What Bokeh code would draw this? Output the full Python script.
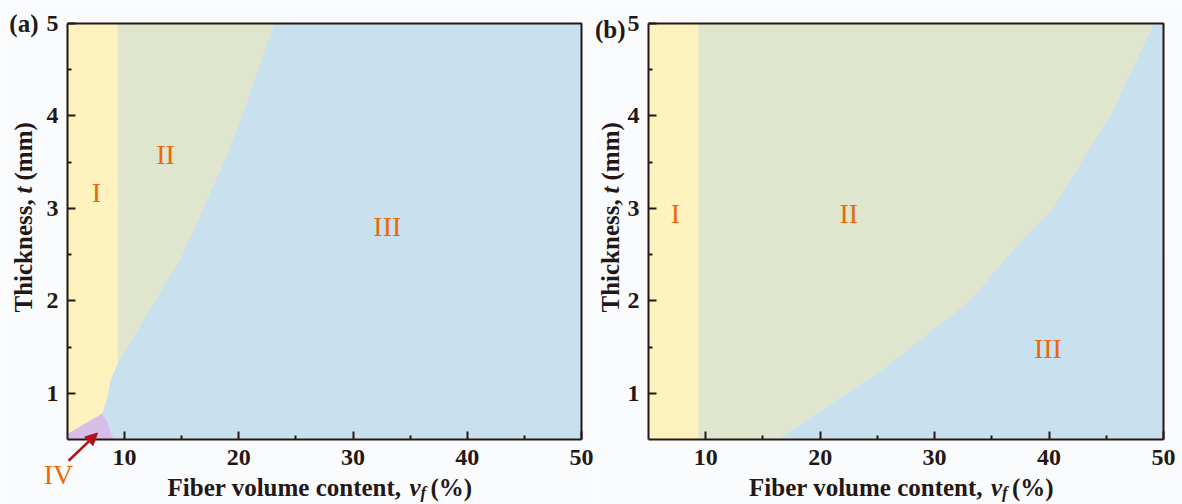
from bokeh.plotting import figure
from bokeh.models import Range1d, FixedTicker, Label, Arrow, NormalHead, LinearAxis
from bokeh.layouts import row
from bokeh.embed import file_html
from bokeh.resources import INLINE
import math

# ---------------- data ----------------
vf_min, vf_max = 5, 50
t_min, t_max = 0.5, 5
x_major = [10, 20, 30, 40, 50]
x_minor = [15, 25, 35, 45]
y_major = [1, 2, 3, 4, 5]
y_minor = [1.5, 2.5, 3.5, 4.5]

# panel (a)
a_I_edge = 9.4
a_II_III_vf = [9.4, 14.9, 16.9, 19.0, 20.75, 23.1]
a_II_III_t = [1.32, 2.46, 3.0, 3.59, 4.16, 5.0]
a_I_III_vf = [9.4, 8.77, 8.5, 8.06]
a_I_III_t = [1.32, 1.14, 0.95, 0.78]
a_IV_vf = [5, 5, 8.06, 8.5, 9.03]
a_IV_t = [0.5, 0.56, 0.78, 0.68, 0.5]
a_label_text = ["I", "II", "III"]
a_label_vf = [7.54, 13.58, 33.0]
a_label_t = [3.17, 3.58, 2.80]
a_IV_label = ("IV", 4.21, 0.12)
a_arrow_vf = [5.09, 7.63]
a_arrow_t = [0.27, 0.57]

# panel (b)
b_I_edge = 9.37
b_II_III_vf = [16.3, 25.3, 33.1, 36.8, 40.4, 45.6, 49.1, 49.5]
b_II_III_t = [0.5, 1.24, 2.0, 2.54, 3.01, 4.06, 4.98, 5.0]
b_label_text = ["I", "II", "III"]
b_label_vf = [7.36, 22.5, 39.9]
b_label_t = [2.94, 2.94, 1.48]

# ---------------- style ----------------
C_I = "#FEF2BF"
C_II = "#E0E6CE"
C_III = "#C9E0EF"
C_IV = "#D9BDE9"
C_TXT = "#E8690C"
C_INK = "#231815"
C_BG = "#FAFBFD"
C_ARROW = "#B0121B"
SERIF = "Liberation Serif"
H = 504
PAD_TOP, PAD_BOTTOM = 23, 65


def lab(p, **kw):
    p.add_layout(Label(**kw))


def make_panel(width, pad_left, pad_right):
    # the plotting frame fills the whole canvas; the data box sits inside it
    sx = (width - pad_left - pad_right) / (vf_max - vf_min)
    sy = (H - PAD_TOP - PAD_BOTTOM) / (t_max - t_min)
    xr = Range1d(vf_min - pad_left / sx, vf_max + pad_right / sx)
    yr = Range1d(t_min - PAD_BOTTOM / sy, t_max + PAD_TOP / sy)
    p = figure(width=width, height=H, x_range=xr, y_range=yr,
               output_backend="svg", toolbar_location=None,
               x_axis_location=None, y_axis_location=None,
               min_border=0)
    p.border_fill_color = C_BG
    p.background_fill_color = C_BG
    p.outline_line_color = None
    p.grid.visible = False

    # region III fills the data box
    p.patch([vf_min, vf_max, vf_max, vf_min], [t_min, t_min, t_max, t_max],
            fill_color=C_III, line_color=None)

    xa = LinearAxis(fixed_location=t_min, bounds=(vf_min, vf_max),
                    ticker=FixedTicker(ticks=x_major, minor_ticks=x_minor))
    ya = LinearAxis(fixed_location=vf_min, bounds=(t_min, t_max),
                    ticker=FixedTicker(ticks=y_major, minor_ticks=y_minor))
    for ax in (xa, ya):
        ax.axis_line_color = C_INK
        ax.axis_line_width = 2
        ax.major_tick_line_color = C_INK
        ax.major_tick_line_width = 2
        ax.minor_tick_line_color = C_INK
        ax.minor_tick_line_width = 2
        ax.major_tick_in = 8
        ax.major_tick_out = 0
        ax.minor_tick_in = 4
        ax.minor_tick_out = 0
        ax.major_label_text_font = SERIF
        ax.major_label_text_font_style = "bold"
        ax.major_label_text_font_size = "24px"
        ax.major_label_text_color = C_INK
    xa.major_label_standoff = 10
    ya.major_label_standoff = 9
    p.add_layout(xa, "below")
    p.add_layout(ya, "left")
    return p


def decorate(p, tag, tag_dx, tag_dy, ylab_dx):
    # top and right edges of the data box
    p.line([vf_min, vf_max, vf_max], [t_max, t_max, t_min], line_color=C_INK, line_width=2)
    cx = (vf_min + vf_max) / 2
    cy = (t_min + t_max) / 2
    common = dict(text_font=SERIF, text_color=C_INK, text_font_style="bold",
                  text_baseline="alphabetic")
    ital = dict(text_font=SERIF, text_color=C_INK, text_font_style="bold italic",
                text_baseline="alphabetic")
    lab(p, x=cx, y=t_min, text="Fiber volume content,", x_offset=77, y_offset=-48,
        text_align="right", text_font_size="25px", **common)
    lab(p, x=cx, y=t_min, text="v", x_offset=85, y_offset=-48,
        text_align="left", text_font_size="25px", **ital)
    lab(p, x=cx, y=t_min, text="f", x_offset=96, y_offset=-53,
        text_align="left", text_font_size="17px", **ital)
    lab(p, x=cx, y=t_min, text="(%)", x_offset=106, y_offset=-48,
        text_align="left", text_font_size="25px", **common)
    lab(p, x=vf_min, y=cy, text="Thickness,", x_offset=ylab_dx, y_offset=-81,
        angle=math.pi / 2, text_align="left", text_font_size="25px", **common)
    lab(p, x=vf_min, y=cy, text="t", x_offset=ylab_dx, y_offset=38,
        angle=math.pi / 2, text_align="left", text_font_size="25px", **ital)
    lab(p, x=vf_min, y=cy, text="(mm)", x_offset=ylab_dx, y_offset=51,
        angle=math.pi / 2, text_align="left", text_font_size="25px", **common)
    lab(p, x=vf_min, y=t_max, text=tag, x_offset=tag_dx, y_offset=tag_dy,
        text_align="right", text_font_size="25px", **common)


def region_labels(p, texts, xs, ys):
    for s, x, y in zip(texts, xs, ys):
        lab(p, x=x, y=y, text=s, text_font=SERIF, text_font_size="28px",
            text_color=C_TXT, text_align="center", text_baseline="middle")


# ---------------- panel (a) ----------------
pa = make_panel(594, 67, 13)
xs_II = [a_I_edge, a_II_III_vf[-1]] + a_II_III_vf[::-1]
ys_II = [t_max, t_max] + a_II_III_t[::-1]
pa.patch(xs_II, ys_II, fill_color=C_II, line_color=None)
xs_I = [vf_min, a_I_edge] + a_I_III_vf + [vf_min]
ys_I = [t_max, t_max] + a_I_III_t + [a_IV_t[1]]
pa.patch(xs_I, ys_I, fill_color=C_I, line_color=None)
pa.patch(a_IV_vf, a_IV_t, fill_color=C_IV, line_color=None)
decorate(pa, "(a)", -29, 0, -44)
region_labels(pa, a_label_text, a_label_vf, a_label_t)
lab(pa, x=a_IV_label[1], y=a_IV_label[2], text=a_IV_label[0], text_font=SERIF,
    text_font_size="28px", text_color=C_TXT, text_align="center", text_baseline="middle")
pa.add_layout(Arrow(x_start=a_arrow_vf[0], y_start=a_arrow_t[0],
                    x_end=a_arrow_vf[1], y_end=a_arrow_t[1],
                    line_color=C_ARROW, line_width=2.5,
                    end=NormalHead(size=12, fill_color=C_ARROW, line_color=C_ARROW)))

# ---------------- panel (b) ----------------
pb = make_panel(588, 54, 19)
xs_II_b = [b_I_edge, b_II_III_vf[-1]] + b_II_III_vf[::-1] + [b_I_edge]
ys_II_b = [t_max, t_max] + b_II_III_t[::-1] + [t_min]
pb.patch(xs_II_b, ys_II_b, fill_color=C_II, line_color=None)
pb.patch([vf_min, b_I_edge, b_I_edge, vf_min], [t_min, t_min, t_max, t_max],
         fill_color=C_I, line_color=None)
decorate(pb, "(b)", -23, -6, -38)
region_labels(pb, b_label_text, b_label_vf, b_label_t)

layout = row(pa, pb)
open("out.html", "w").write(file_html(layout, INLINE))
